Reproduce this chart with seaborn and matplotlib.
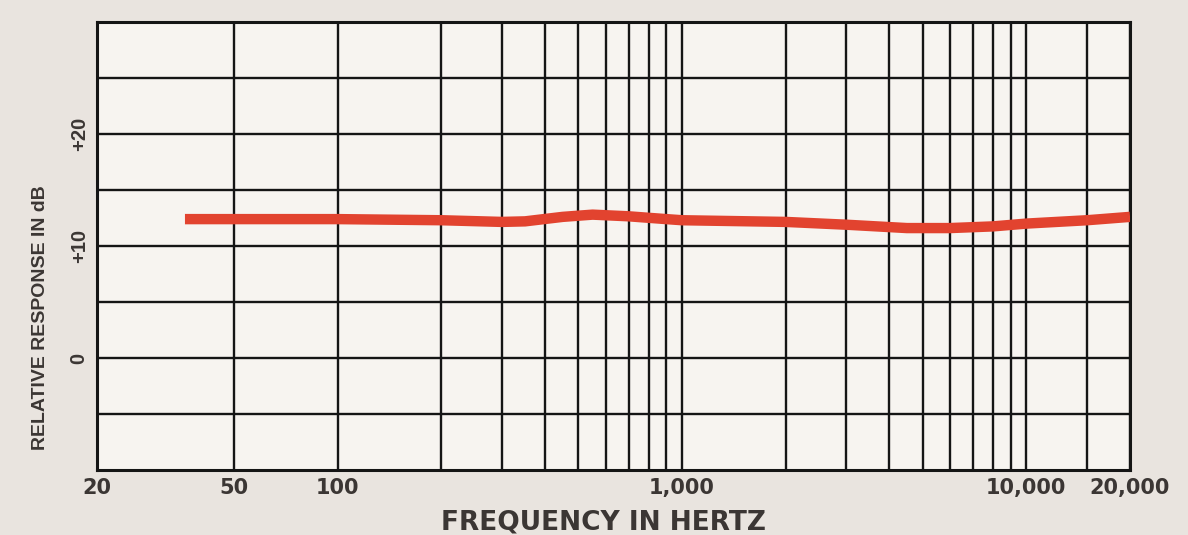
import matplotlib
matplotlib.use("Agg")
import matplotlib.pyplot as plt
import seaborn as sns
import pandas as pd
from matplotlib.ticker import FixedLocator, NullFormatter

# ---- data ----
freq_hz = [36, 50, 100, 200, 300, 350, 450, 550, 700, 900, 1000, 2000, 3000,
           4500, 6000, 8000, 10000, 15000, 20000]
response_db = [12.4, 12.4, 12.4, 12.3, 12.15, 12.2, 12.6, 12.8, 12.65, 12.4, 12.3,
               12.15, 11.9, 11.6, 11.6, 11.75, 12.0, 12.3, 12.6]

x_major_ticks = [20, 50, 100, 1000, 10000, 20000]
x_major_labels = ["20", "50", "100", "1,000", "10,000", "20,000"]
x_minor_ticks = [200, 300, 400, 500, 600, 700, 800, 900,
                 2000, 3000, 4000, 5000, 6000, 7000, 8000, 9000, 15000]
y_major_ticks = [0, 10, 20]
y_major_labels = ["0", "+10", "+20"]
y_minor_ticks = [-5, 5, 15, 25]

df = pd.DataFrame({"freq": freq_hz, "db": response_db})

sns.set_style("white")
plt.rcParams["font.family"] = ["DejaVu Sans"]
side_font = ["Liberation Sans", "DejaVu Sans"]

text_color = "#3b3634"
fig = plt.figure(figsize=(11.88, 5.35), dpi=100, facecolor="#e9e4df")
ax = fig.add_axes([0.0817, 0.1215, 0.8695, 0.8374])
ax.set_facecolor("#f7f4f0")

sns.lineplot(data=df, x="freq", y="db", ax=ax, color="#e2432f", linewidth=7.5,
             solid_capstyle="butt", zorder=3)

ax.set_xscale("log")
ax.set_xlim(20, 20000)
ax.set_ylim(-10, 30)

ax.xaxis.set_major_locator(FixedLocator(x_major_ticks))
ax.set_xticklabels(x_major_labels)
ax.xaxis.set_minor_locator(FixedLocator(x_minor_ticks))
ax.xaxis.set_minor_formatter(NullFormatter())

ax.yaxis.set_major_locator(FixedLocator(y_major_ticks))
ax.set_yticklabels(y_major_labels, rotation=90, va="center")
ax.yaxis.set_minor_locator(FixedLocator(y_minor_ticks))

ax.grid(True, which="both", color="#151515", linewidth=1.7, zorder=1)
ax.set_axisbelow(True)
for s in ax.spines.values():
    s.set_visible(True)
    s.set_color("#151515")
    s.set_linewidth(2.2)

ax.tick_params(axis="both", which="both", length=0)
ax.tick_params(axis="x", pad=6, labelcolor=text_color)
ax.tick_params(axis="y", pad=6, labelcolor=text_color)
for lbl in ax.get_xticklabels():
    lbl.set_fontsize(15)
    lbl.set_fontweight("bold")
for lbl in ax.get_yticklabels():
    lbl.set_family(side_font)
    lbl.set_fontsize(14.5)
    lbl.set_fontweight("bold")

ax.set_xlabel("FREQUENCY IN HERTZ", fontsize=19, fontweight="bold", color=text_color)
ax.set_ylabel("RELATIVE RESPONSE IN dB", fontsize=14, fontweight="bold", color=text_color,
              family=side_font)
ax.xaxis.set_label_coords(0.49, -0.088)
ax.yaxis.set_label_coords(-0.047, 0.34)

fig.savefig("out.png", dpi=100, facecolor=fig.get_facecolor())
